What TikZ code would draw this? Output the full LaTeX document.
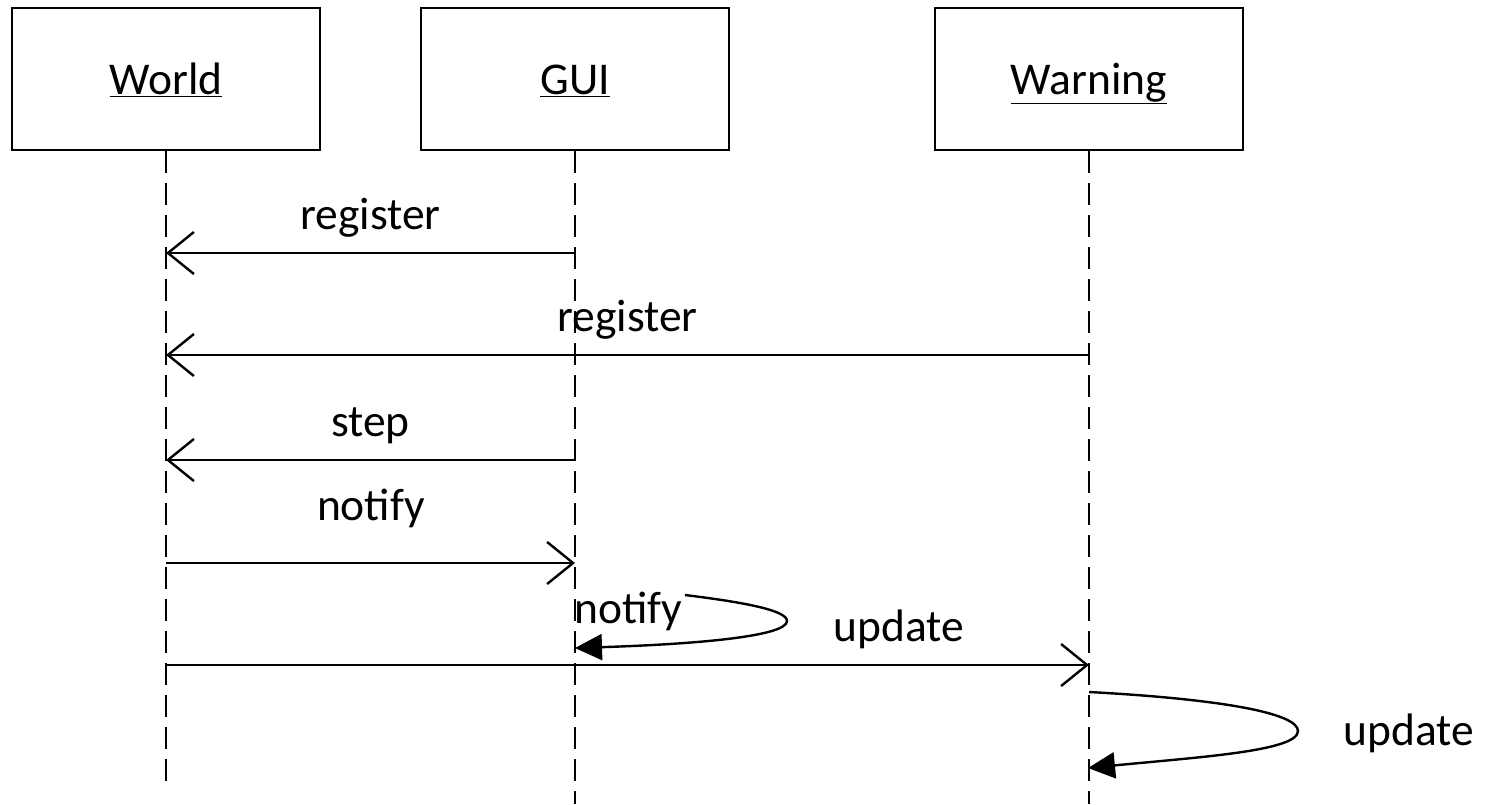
\documentclass[tikz,border=0pt]{standalone}
\usepackage{fontspec}
\setmainfont{Carlito}
\usetikzlibrary{arrows.meta}
\begin{document}
\begin{tikzpicture}[x=1pt,y=-1pt,line width=2.4pt,
  obj/.style={draw,minimum width=308pt,minimum height=142pt,inner sep=0pt,
    text height=35pt,text depth=5pt,
    font=\fontsize{45.5}{54}\selectfont},
  lifeline/.style={dash pattern=on 22pt off 10pt},
  msg/.style={-{Straight Barb[length=26pt,width=42pt,line width=2.4pt]}},
  selfmsg/.style={-{Triangle[length=27pt,width=26pt]}},
  lbl/.style={font=\fontsize{45.5}{54}\selectfont,inner sep=0pt}]
\useasboundingbox (0,0) rectangle (1487,804);

% objects
\node[obj] (world) at (166,79) {\underline{World}};
\node[obj] (gui) at (575,79) {\underline{GUI}};
\node[obj] (warn) at (1089,79) {\underline{Warning}};

% lifelines
\coordinate (worldEnd) at (166,790);
\coordinate (guiEnd) at (575,804);
\coordinate (warnEnd) at (1089,804);
\draw[lifeline] (world.south) -- (worldEnd);
\draw[lifeline] (gui.south) -- (guiEnd);
\draw[lifeline] (warn.south) -- (warnEnd);

% message end points on the lifelines
\coordinate (w1) at (166,253); \coordinate (g1) at (575,253);
\coordinate (w2) at (166,355); \coordinate (r2) at (1089,355);
\coordinate (w3) at (166,460); \coordinate (g3) at (575,460);
\coordinate (w4) at (166,563); \coordinate (g4) at (575,563);
\coordinate (g5a) at (685,595); \coordinate (g5b) at (575,648);
\coordinate (w6) at (166,665); \coordinate (r6) at (1089,665);
\coordinate (r7a) at (1089,692); \coordinate (r7b) at (1088,768);

% messages
\draw[msg] (g1) -- node[lbl,above=14pt] {register} (w1);
\draw[msg] (r2) -- node[lbl,above=14pt] {register} (w2);
\draw[msg] (g3) -- node[lbl,above=15pt] {step} (w3);
\draw[msg] (w4) -- (g4);
\node[lbl] (lnotify) at (371,508) {notify};

\draw[selfmsg] (g5a) .. controls (750,603) and (787,611) .. (787,621)
  .. controls (787,636) and (700,644) .. (g5b);
\node[lbl,anchor=west] (lselfnotify) at (573,611) {notify};

\draw[msg] (w6) -- (r6);
\node[lbl] (lupdate) at (899,629) {update};

\draw[selfmsg] (r7a) .. controls (1220,699) and (1298,713) .. (1298,731)
  .. controls (1298,751) and (1200,757) .. (r7b);
\node[lbl] (lselfupdate) at (1409,733) {update};
\end{tikzpicture}
\end{document}
